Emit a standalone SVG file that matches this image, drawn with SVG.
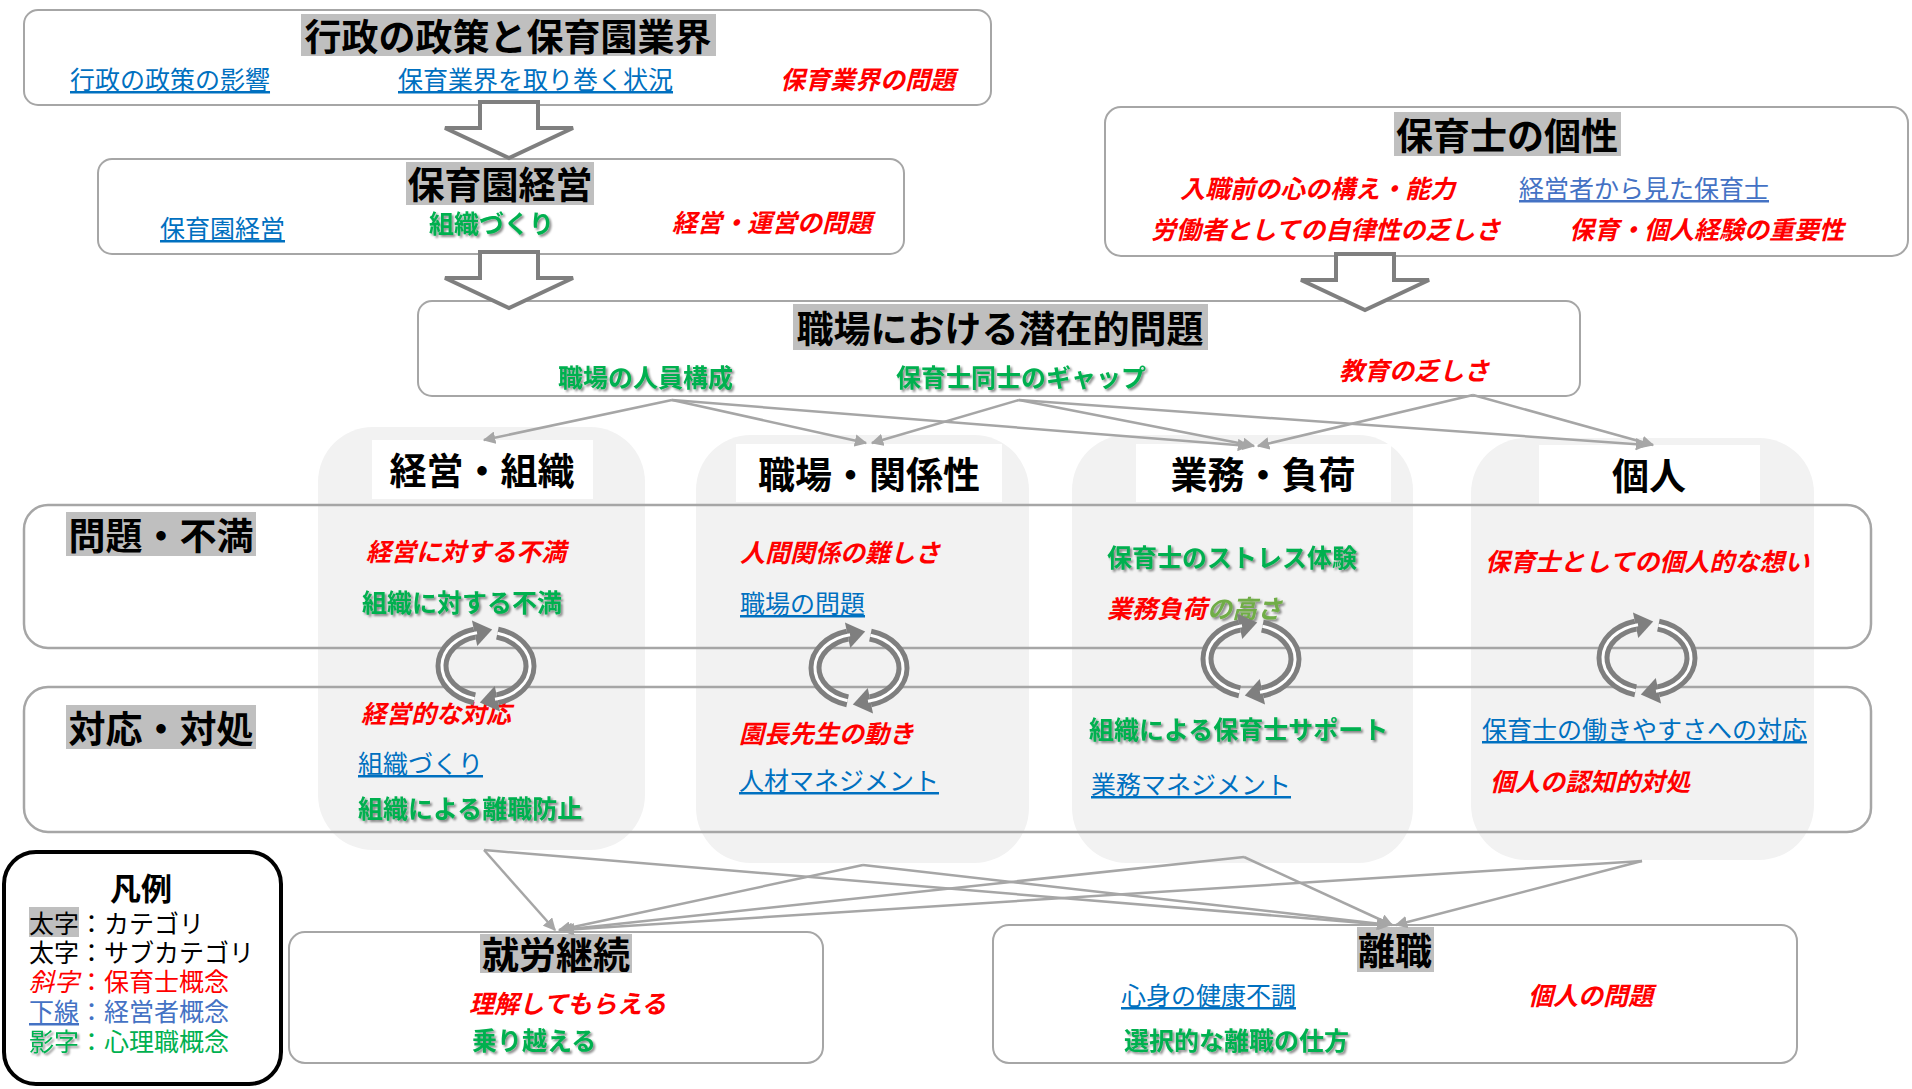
<svg xmlns="http://www.w3.org/2000/svg" xmlns:xlink="http://www.w3.org/1999/xlink" width="1912" height="1089" viewBox="0 0 1912 1089">
<style>
text{font-family:"Noto Sans CJK JP","Noto Sans",sans-serif;dominant-baseline:central}
.box{fill:#fff;stroke:#A6A6A6;stroke-width:2}
.band{fill:none;stroke:#A6A6A6;stroke-width:2.5}
.hl{fill:#BFBFBF}
.col{fill:#F2F2F2}
.hdr{fill:#fff}
.blk{fill:#fff;stroke:#7F7F7F;stroke-width:4;stroke-linejoin:miter}
.ttl{font-size:37px;fill:#000;text-anchor:middle;font-weight:bold}
.s{font-size:25px}
.red{fill:#FF0000;font-style:italic;font-weight:bold}
.blue{fill:#0070C0;text-decoration:underline}
.blue2{fill:#4472C4;text-decoration:underline}
.green{fill:#00B050;font-weight:bold;filter:url(#sh)}
.conn line{stroke:#A6A6A6;stroke-width:2.5;marker-end:url(#ah)}
</style>
<defs>
<filter id="sh" x="-5%" y="-30%" width="115%" height="170%">
<feDropShadow dx="2" dy="2" stdDeviation="0.8" flood-color="#000" flood-opacity="0.45"/>
</filter>
<marker id="ah" viewBox="0 0 10 10" refX="9" refY="5" markerWidth="5" markerHeight="5" orient="auto" markerUnits="strokeWidth">
<path d="M0,0 L10,5 L0,10 z" fill="#A6A6A6"/>
</marker>
<g id="cyc">
<path d="M -11.39 32.84 A 44 34 0 0 1 -11.39 -32.84" fill="none" stroke="#7F7F7F" stroke-width="13"/>
<path d="M 11.39 -32.84 A 44 34 0 0 1 11.39 32.84" fill="none" stroke="#7F7F7F" stroke-width="13"/>
<polygon points="-8.75,-20.11 -14.03,-45.57 6.2,-36.5" fill="#7F7F7F"/>
<polygon points="14.03,45.57 8.75,20.11 -6.2,36.5" fill="#7F7F7F"/>
<path d="M -11.39 32.84 A 44 34 0 0 1 -9 -33.3" fill="none" stroke="#fff" stroke-width="3"/>
<path d="M 11.39 -32.84 A 44 34 0 0 1 9 33.3" fill="none" stroke="#fff" stroke-width="3"/>
</g>
</defs>
<rect width="1912" height="1089" fill="#fff"/>

<!-- columns (background) -->
<g id="columns">
<rect class="col" x="318" y="427" width="327" height="423" rx="55"/>
<rect class="col" x="696" y="435" width="333" height="428" rx="55"/>
<rect class="col" x="1072" y="435" width="341" height="428" rx="55"/>
<rect class="col" x="1471" y="438" width="343" height="422" rx="55"/>
</g>

<!-- top node -->
<g id="node-gyosei">
<rect class="box" x="24" y="10" width="967" height="95" rx="14"/>
<rect class="hl" x="301" y="14" width="415" height="42"/>
<text class="ttl" x="508" y="35">行政の政策と保育園業界</text>
<text class="s blue" x="70" y="78">行政の政策の影響</text>
<text class="s blue" x="398" y="78">保育業界を取り巻く状況</text>
<text class="s red" x="780" y="78">保育業界の問題</text>
</g>

<g id="node-keiei">
<rect class="box" x="98" y="159" width="806" height="95" rx="14"/>
<rect class="hl" x="406" y="162" width="188" height="43"/>
<text class="ttl" x="500" y="183">保育園経営</text>
<text class="s blue" x="160" y="227">保育園経営</text>
<text class="s green" x="429" y="222">組織づくり</text>
<text class="s red" x="672" y="221">経営・運営の問題</text>
</g>

<g id="node-kosei">
<rect class="box" x="1105" y="107" width="803" height="149" rx="16"/>
<rect class="hl" x="1394" y="112" width="227" height="44"/>
<text class="ttl" x="1507" y="134">保育士の個性</text>
<text class="s red" x="1180" y="187">入職前の心の構え・能力</text>
<text class="s blue2" x="1519" y="187">経営者から見た保育士</text>
<text class="s red" x="1151" y="228">労働者としての自律性の乏しさ</text>
<text class="s red" x="1569" y="228">保育・個人経験の重要性</text>
</g>

<g id="node-senzai">
<rect class="box" x="418" y="301" width="1162" height="95" rx="14"/>
<rect class="hl" x="793" y="304" width="415" height="46"/>
<text class="ttl" x="1000" y="327">職場における潜在的問題</text>
<text class="s green" x="558" y="376">職場の人員構成</text>
<text class="s green" x="896" y="376">保育士同士のギャップ</text>
<text class="s red" x="1339" y="369">教育の乏しさ</text>
</g>

<!-- block arrows -->
<g id="block-arrows">
<polygon class="blk" points="480,102 538,102 538,128 573,128 509,158 445,128 480,128"/>
<polygon class="blk" points="480,252 538,252 538,278 573,278 509,308 445,278 480,278"/>
<polygon class="blk" points="1336,254 1394,254 1394,280 1429,280 1365,310 1301,280 1336,280"/>
</g>

<!-- column headers -->
<g id="col-keiei">
<rect class="hdr" x="372" y="440" width="221" height="59"/>
<text class="ttl" x="482" y="469">経営・組織</text>
</g>
<g id="col-shokuba">
<rect class="hdr" x="736" y="444" width="266" height="58"/>
<text class="ttl" x="869" y="473">職場・関係性</text>
</g>
<g id="col-gyomu">
<rect class="hdr" x="1136" y="444" width="255" height="58"/>
<text class="ttl" x="1263" y="473">業務・負荷</text>
</g>
<g id="col-kojin">
<rect class="hdr" x="1539" y="445" width="221" height="59"/>
<text class="ttl" x="1649" y="474">個人</text>
</g>

<!-- row bands -->
<g id="row-mondai">
<rect class="band" x="24" y="505" width="1847" height="143" rx="24"/>
<rect class="hl" x="66" y="512" width="190" height="44"/>
<text class="ttl" x="161" y="534">問題・不満</text>
</g>
<g id="row-taio">
<rect class="band" x="24" y="687" width="1847" height="145" rx="24"/>
<rect class="hl" x="66" y="705" width="190" height="44"/>
<text class="ttl" x="161" y="727">対応・対処</text>
</g>

<!-- column contents -->
<g id="col-keiei-items">
<text class="s red" x="366" y="550">経営に対する不満</text>
<text class="s green" x="362" y="601">組織に対する不満</text>
<text class="s red" x="361" y="712">経営的な対応</text>
<text class="s blue" x="358" y="762">組織づくり</text>
<text class="s green" x="358" y="807">組織による離職防止</text>
</g>
<g id="col-shokuba-items">
<text class="s red" x="740" y="551">人間関係の難しさ</text>
<text class="s blue" x="740" y="602">職場の問題</text>
<text class="s red" x="739" y="732">園長先生の動き</text>
<text class="s blue" x="739" y="779">人材マネジメント</text>
</g>
<g id="col-gyomu-items">
<text class="s green" x="1107" y="556">保育士のストレス体験</text>
<text class="s red" x="1107" y="607">業務負荷<tspan style="fill:#70AD47;filter:url(#sh)">の高さ</tspan></text>
<text class="s green" x="1089" y="728">組織による保育士サポート</text>
<text class="s blue" x="1091" y="783">業務マネジメント</text>
</g>
<g id="col-kojin-items">
<text class="s red" x="1485" y="560">保育士としての個人的な想い</text>
<text class="s blue" x="1482" y="728">保育士の働きやすさへの対応</text>
<text class="s red" x="1490" y="780">個人の認知的対処</text>
</g>

<!-- cycle icons -->
<g id="cycles">
<use href="#cyc" xlink:href="#cyc" x="486" y="666"/>
<use href="#cyc" xlink:href="#cyc" x="859" y="668"/>
<use href="#cyc" xlink:href="#cyc" x="1251" y="659"/>
<use href="#cyc" xlink:href="#cyc" x="1647" y="658"/>
</g>

<!-- bottom nodes -->
<g id="node-keizoku">
<rect class="box" x="289" y="932" width="534" height="131" rx="16"/>
<rect class="hl" x="480" y="934" width="152" height="39"/>
<text class="ttl" x="556" y="953">就労継続</text>
<text class="s red" x="469" y="1002">理解してもらえる</text>
<text class="s green" x="472" y="1039">乗り越える</text>
</g>
<g id="node-rishoku">
<rect class="box" x="993" y="925" width="804" height="138" rx="16"/>
<rect class="hl" x="1357" y="927" width="77" height="45"/>
<text class="ttl" x="1395" y="949">離職</text>
<text class="s blue" x="1121" y="994">心身の健康不調</text>
<text class="s red" x="1528" y="994">個人の問題</text>
<text class="s green" x="1124" y="1039">選択的な離職の仕方</text>
</g>

<!-- legend -->
<g id="legend">
<rect x="4" y="852" width="277" height="232" rx="32" fill="#fff" stroke="#000" stroke-width="4"/>
<text x="141" y="886" style="font-size:31px;text-anchor:middle;font-weight:bold">凡例</text>
<rect class="hl" x="29" y="907" width="50" height="30"/>
<text class="s" x="29" y="922">太字：カテゴリ</text>
<text class="s" x="29" y="951">太字：サブカテゴリ</text>
<text class="s" x="29" y="980" style="fill:#FF0000"><tspan style="font-style:italic">斜字</tspan>：保育士概念</text>
<text class="s" x="29" y="1010" style="fill:#4472C4"><tspan style="text-decoration:underline">下線</tspan>：経営者概念</text>
<text class="s" x="29" y="1040" style="fill:#00B050"><tspan style="filter:url(#sh)">影字</tspan>：心理職概念</text>
</g>

<!-- connectors -->
<g id="connectors" class="conn">
<line x1="672" y1="400" x2="484" y2="440"/>
<line x1="672" y1="400" x2="866" y2="443"/>
<line x1="672" y1="400" x2="1249" y2="446"/>
<line x1="1019" y1="400" x2="872" y2="443"/>
<line x1="1019" y1="400" x2="1254" y2="446"/>
<line x1="1019" y1="400" x2="1647" y2="445"/>
<line x1="1473" y1="395" x2="1258" y2="446"/>
<line x1="1473" y1="395" x2="1653" y2="445"/>
<line x1="484" y1="850" x2="555" y2="930"/>
<line x1="484" y1="850" x2="1388" y2="925"/>
<line x1="863" y1="865" x2="559" y2="930"/>
<line x1="863" y1="865" x2="1390" y2="925"/>
<line x1="1244" y1="857" x2="561" y2="930"/>
<line x1="1244" y1="857" x2="1392" y2="925"/>
<line x1="1642" y1="861" x2="563" y2="930"/>
<line x1="1642" y1="861" x2="1396" y2="925"/>
</g>
</svg>
